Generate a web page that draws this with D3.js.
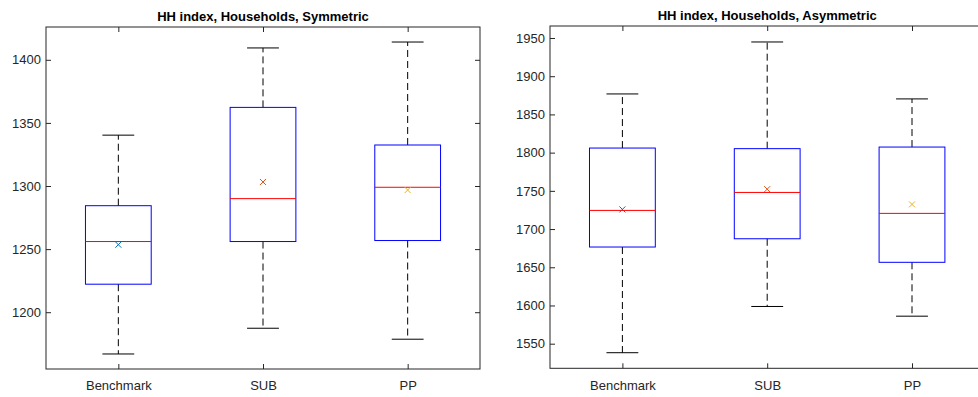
<!DOCTYPE html>
<html>
<head>
<meta charset="utf-8">
<script src="https://cdn.jsdelivr.net/npm/d3@7"></script>
<style>
  html, body { margin: 0; padding: 0; background: #fff; }
  svg { display: block; font-family: "Liberation Sans", Arial, sans-serif; }
</style>
</head>
<body>
<svg id="chart" width="978" height="397"></svg>
<script>
// ---- data ----
const categories = ["Benchmark", "SUB", "PP"];
const markerColors = ["#0072BD", "#D95319", "#EDB120"];

// Symmetric panel
const symTitle = "HH index, Households, Symmetric";
const symLowerWhisker = [1166.9, 1187.3, 1178.6];
const symQ1 = [1222.2, 1256.0, 1256.8];
const symMedian = [1256.0, 1290.0, 1299.0];
const symQ3 = [1284.4, 1362.3, 1332.5];
const symUpperWhisker = [1340.3, 1409.4, 1414.1];
const symMean = [1253.5, 1303.2, 1296.8];
const symTicks = [1200, 1250, 1300, 1350, 1400];
const symDomain = [1155, 1426];

// Asymmetric panel
const asymTitle = "HH index, Households, Asymmetric";
const asymLowerWhisker = [1538.2, 1598.7, 1586.0];
const asymQ1 = [1676.5, 1687.3, 1656.5];
const asymMedian = [1724.4, 1747.9, 1720.5];
const asymQ3 = [1806.0, 1805.2, 1807.3];
const asymUpperWhisker = [1876.8, 1944.8, 1870.3];
const asymMean = [1725.7, 1752.2, 1732.3];
const asymTicks = [1550, 1600, 1650, 1700, 1750, 1800, 1850, 1900, 1950];
const asymDomain = [1517.8, 1965.7];

const svg = d3.select("#chart");
const axisColor = "#262626";

function drawPanel(cfg) {
  const {x0, x1, y0, y1, title, lw, q1, med, q3, uw, mean, ticks, domain} = cfg;
  const g = svg.append("g");

  const x = d3.scaleLinear().domain([0.5, 3.5]).range([x0, x1]);
  const y = d3.scaleLinear().domain(domain).range([y1, y0]);
  const idx = categories.map((c, i) => i + 1);

  // axes
  const yl = g.append("g").attr("transform", `translate(${x0},0)`)
    .call(d3.axisLeft(y).tickValues(ticks).tickSize(-5).tickPadding(5).tickFormat(d3.format("d")));
  const yr = g.append("g").attr("transform", `translate(${x1},0)`)
    .call(d3.axisRight(y).tickValues(ticks).tickSize(-5).tickFormat(""));
  const xb = g.append("g").attr("transform", `translate(0,${y1})`)
    .call(d3.axisBottom(x).tickValues(idx).tickSize(-5).tickPadding(12).tickFormat((d) => categories[d - 1]));
  const xt = g.append("g").attr("transform", `translate(0,${y0})`)
    .call(d3.axisTop(x).tickValues(idx).tickSize(-5).tickFormat(""));
  [yl, yr, xb, xt].forEach(a => {
    a.select(".domain").remove();
    a.selectAll(".tick line").attr("stroke", axisColor);
    a.selectAll("text").attr("fill", axisColor).attr("font-size", 13)
      .attr("font-family", "'Liberation Sans', Arial, sans-serif");
  });

  // frame
  g.append("rect").attr("x", x0).attr("y", y0)
    .attr("width", x1 - x0).attr("height", y1 - y0)
    .attr("fill", "none").attr("stroke", axisColor).attr("stroke-width", 1);

  const bw = x(1.4545) - x(1);   // box width
  const cw = x(1.22) - x(1);     // cap width

  categories.forEach((c, i) => {
    const cx = x(i + 1);
    // whiskers (dashed)
    g.append("line").attr("x1", cx).attr("x2", cx).attr("y1", y(q3[i])).attr("y2", y(uw[i]))
      .attr("stroke", "#000").attr("stroke-dasharray", "7,4");
    g.append("line").attr("x1", cx).attr("x2", cx).attr("y1", y(q1[i])).attr("y2", y(lw[i]))
      .attr("stroke", "#000").attr("stroke-dasharray", "7,4");
    // caps
    g.append("line").attr("x1", cx - cw / 2).attr("x2", cx + cw / 2).attr("y1", y(uw[i])).attr("y2", y(uw[i]))
      .attr("stroke", "#000");
    g.append("line").attr("x1", cx - cw / 2).attr("x2", cx + cw / 2).attr("y1", y(lw[i])).attr("y2", y(lw[i]))
      .attr("stroke", "#000");
    // box
    g.append("rect").attr("x", cx - bw / 2).attr("y", y(q3[i]))
      .attr("width", bw).attr("height", y(q1[i]) - y(q3[i]))
      .attr("fill", "none").attr("stroke", "#0000FF").attr("stroke-width", 1);
    // median
    g.append("line").attr("x1", cx - bw / 2).attr("x2", cx + bw / 2).attr("y1", y(med[i])).attr("y2", y(med[i]))
      .attr("stroke", "#FF0000").attr("stroke-width", 1);
    // mean marker x
    const my = y(mean[i]), s = 3;
    g.append("path").attr("d", `M${cx - s},${my - s}L${cx + s},${my + s}M${cx - s},${my + s}L${cx + s},${my - s}`)
      .attr("stroke", markerColors[i]).attr("stroke-width", 1).attr("fill", "none");
  });

  // title
  g.append("text").attr("x", (x0 + x1) / 2).attr("y", y0 - 6)
    .attr("text-anchor", "middle").attr("font-weight", "bold").attr("font-size", 13)
    .attr("fill", "#000").text(title);
}

drawPanel({x0: 46, x1: 480, y0: 27, y1: 369, title: symTitle,
  lw: symLowerWhisker, q1: symQ1, med: symMedian, q3: symQ3, uw: symUpperWhisker, mean: symMean,
  ticks: symTicks, domain: symDomain});

drawPanel({x0: 550, x1: 984.4, y0: 26, y1: 368.3, title: asymTitle,
  lw: asymLowerWhisker, q1: asymQ1, med: asymMedian, q3: asymQ3, uw: asymUpperWhisker, mean: asymMean,
  ticks: asymTicks, domain: asymDomain});
</script>
</body>
</html>
